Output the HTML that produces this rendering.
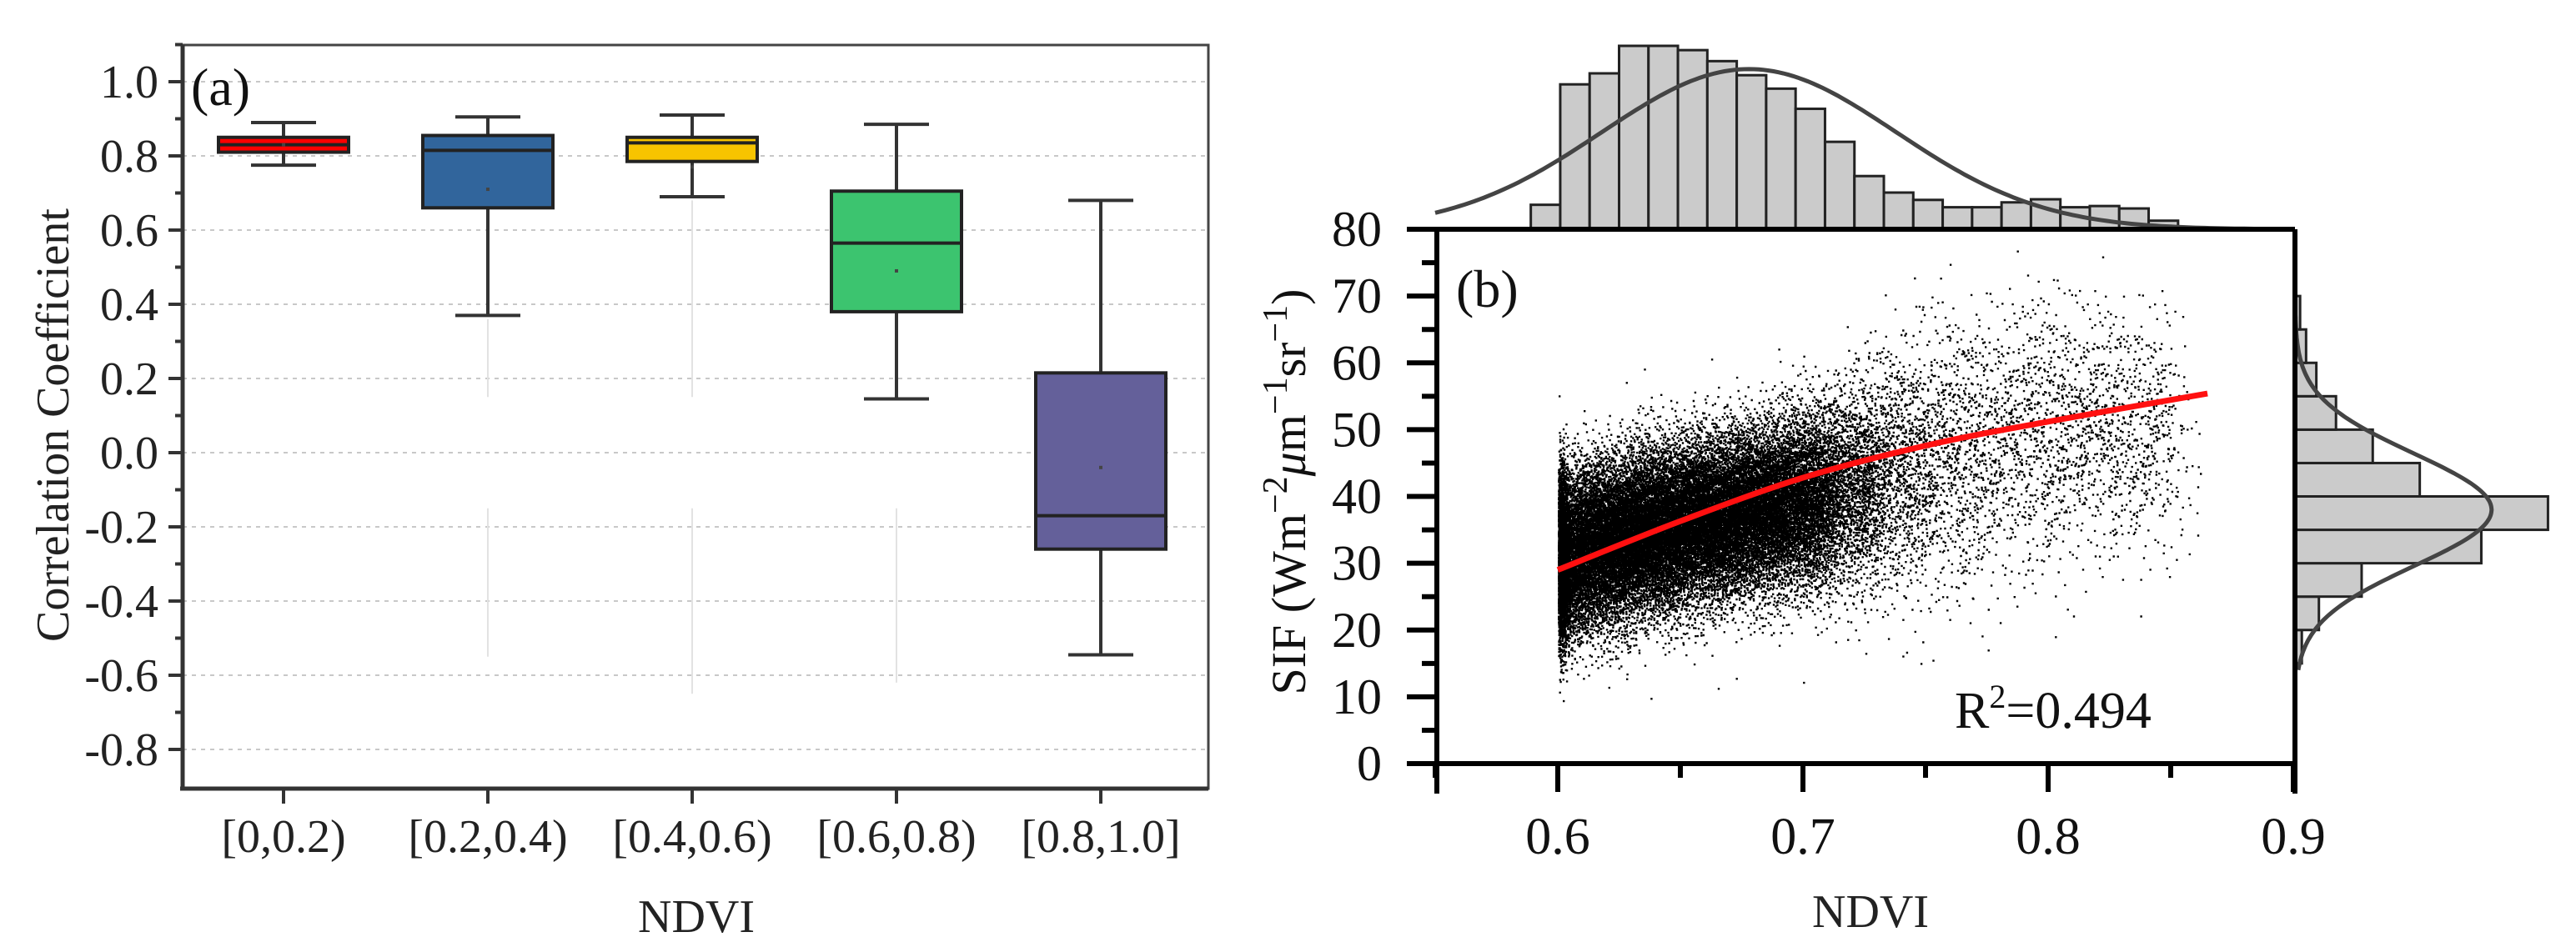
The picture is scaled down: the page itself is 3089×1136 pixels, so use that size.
<!DOCTYPE html>
<html><head><meta charset="utf-8"><style>
html,body{margin:0;padding:0;background:#fff;}
svg{display:block;}
text{font-family:"Liberation Serif",serif;}
</style></head><body>
<svg id="chart" width="3089" height="1136" viewBox="0 0 3089 1136" xmlns="http://www.w3.org/2000/svg" font-family="Liberation Serif, serif">
<g id="pa"></g>
<g id="pb"></g>
</svg>
<script>
// ---------- Panel (a) data ----------
const catLabels = ["[0,0.2)","[0.2,0.4)","[0.4,0.6)","[0.6,0.8)","[0.8,1.0]"];
const boxColors = ["#ff0000","#31659c","#f7c400","#3cc46f","#64609a"];
const whiskLow  = [0.775, 0.37, 0.69, 0.145, -0.545];
const q1Vals    = [0.81, 0.66, 0.785, 0.38, -0.26];
const medVals   = [0.83, 0.815, 0.835, 0.565, -0.17];
const q3Vals    = [0.85, 0.855, 0.85, 0.705, 0.215];
const whiskHigh = [0.89, 0.905, 0.91, 0.885, 0.68];
const meanVals  = [0.83, 0.71, 0.77, 0.49, -0.04];
const yTicksA   = [1.0,0.8,0.6,0.4,0.2,0.0,-0.2,-0.4,-0.6,-0.8];
const yTickLabelsA = ["1.0","0.8","0.6","0.4","0.2","0.0","-0.2","-0.4","-0.6","-0.8"];

// ---------- Panel (b) data ----------
const xTicksB = [0.6,0.7,0.8,0.9];
const xTickLabelsB = ["0.6","0.7","0.8","0.9"];
const yTicksB = [0,10,20,30,40,50,60,70,80];
const scatterNdvi  = [0.60,0.62,0.64,0.66,0.68,0.70,0.72,0.74,0.76,0.78,0.80,0.82,0.84,0.86];
const scatterMean  = [31,33,35,36.5,38,39.5,41.5,44,46,48,50,50,50,47];
const scatterSd    = [6,6,6,6,6,6.5,7.5,9,10,10,10,9,9,8];
const scatterCount = [6000,6500,6500,6000,5500,4200,2000,1000,650,500,500,460,400,60];
const fitNdvi = [0.60,0.65,0.70,0.75,0.80,0.865];
const fitSif  = [29,36.3,42.8,47.6,51.2,55.4];
const topHistStart = 0.589, topHistWidth = 0.012;
const topHistCounts = [40,237,255,300,300,293,275,252,230,197,143,87,60,48,36,36,44,49,36,38,34,14];
const topCurveMean = 0.678, topCurveSd = 0.06, topCurveAmp = 262;
const rightHistStart = 15, rightHistWidth = 5;
const rightHistCounts = [8,28,78,218,296,146,91,48,25,13,6];
const rightCurveMean = 38, rightCurveSd = 8.4, rightCurveAmp = 230;

const NS="http://www.w3.org/2000/svg";
function mk(parent,tag,attrs,text){const e=document.createElementNS(NS,tag);for(const k in attrs)e.setAttribute(k,attrs[k]);if(tag==='text')e.setAttribute('font-family','Liberation Serif, serif');if(text!==undefined)e.textContent=text;parent.appendChild(e);return e;}

// ===== Panel A =====
const pa=document.getElementById('pa');
const aL=219,aR=1449,aT=54,aB=946;
const ya=v=>543-v*445;
const xa=i=>340+i*245;
yTicksA.forEach((v,i)=>{
  const g=mk(pa,'line',{x1:aL,x2:aR,y1:ya(v),y2:ya(v),stroke:'#c8c8c8','stroke-width':2,'stroke-dasharray':'5,6'});
  
  
});
[[1,0.36,0.15],[1,-0.15,-0.55],[2,0.68,0.15],[2,-0.15,-0.65],[3,-0.15,-0.62]].forEach(o=>{
  const l=mk(pa,'line',{x1:xa(o[0]),x2:xa(o[0]),y1:ya(o[1]),y2:ya(o[2]),stroke:'#e2e2e2','stroke-width':2});
  
  
});
catLabels.forEach((c,i)=>{
  const g=mk(pa,'g',{});
  
  
  const cx=xa(i),hw=78,cw=39;
  mk(g,'line',{x1:cx,x2:cx,y1:ya(whiskHigh[i]),y2:ya(q3Vals[i]),stroke:'#333','stroke-width':4});
  mk(g,'line',{x1:cx,x2:cx,y1:ya(q1Vals[i]),y2:ya(whiskLow[i]),stroke:'#333','stroke-width':4});
  mk(g,'line',{x1:cx-cw,x2:cx+cw,y1:ya(whiskHigh[i]),y2:ya(whiskHigh[i]),stroke:'#333','stroke-width':4});
  mk(g,'line',{x1:cx-cw,x2:cx+cw,y1:ya(whiskLow[i]),y2:ya(whiskLow[i]),stroke:'#333','stroke-width':4});
  mk(g,'rect',{x:cx-hw,y:ya(q3Vals[i]),width:2*hw,height:ya(q1Vals[i])-ya(q3Vals[i]),fill:boxColors[i],stroke:'#222','stroke-width':4});
  mk(g,'line',{x1:cx-hw,x2:cx+hw,y1:ya(medVals[i]),y2:ya(medVals[i]),stroke:'#222','stroke-width':4});
  mk(g,'rect',{x:cx-2,y:ya(meanVals[i])-2,width:4,height:4,fill:'#444'});
  const t=mk(pa,'text',{x:cx,y:1022,'font-size':56,'text-anchor':'middle',fill:'#222'},c);
  
  
  mk(pa,'line',{x1:cx,x2:cx,y1:aB,y2:aB+18,stroke:'#333','stroke-width':4});
});
mk(pa,'rect',{x:aL,y:aT,width:aR-aL,height:aB-aT,fill:'none',stroke:'#444','stroke-width':3});
mk(pa,'line',{x1:aL,x2:aL,y1:aT,y2:aB+2,stroke:'#333','stroke-width':5});
mk(pa,'line',{x1:aL-3,x2:aR,y1:aB,y2:aB,stroke:'#333','stroke-width':5});
yTicksA.forEach((v,i)=>{
  mk(pa,'line',{x1:aL-17,x2:aL,y1:ya(v),y2:ya(v),stroke:'#333','stroke-width':4});
  mk(pa,'line',{x1:aL-9,x2:aL,y1:ya(v)-44.5,y2:ya(v)-44.5,stroke:'#333','stroke-width':4});
  const t=mk(pa,'text',{x:190,y:ya(v)+19,'font-size':56,'text-anchor':'end',fill:'#222'},yTickLabelsA[i]);
  
  
});
let t=mk(pa,'text',{x:229,y:126,'font-size':64,fill:'#111'},'(a)');

t=mk(pa,'text',{x:0,y:0,'font-size':56,'text-anchor':'middle',fill:'#222',transform:'translate(82,510) rotate(-90)'},'Correlation Coefficient');

t=mk(pa,'text',{x:835,y:1118,'font-size':56,'text-anchor':'middle',fill:'#222'},'NDVI');


// ===== Panel B =====
const pb=document.getElementById('pb');
const bL=1723,bR=2752,bT=275,bB=916;
const xb=v=>1868+(v-0.6)*2940;
const yb=v=>bB-v*(bB-bT)/80;
const topScale=220/300;
topHistCounts.forEach((c,i)=>{
  const x0=xb(topHistStart+i*topHistWidth),x1=xb(topHistStart+(i+1)*topHistWidth);
  const r=mk(pb,'rect',{x:x0,y:bT-c*topScale,width:x1-x0,height:c*topScale,fill:'#cbcbcb',stroke:'#222','stroke-width':3});
  
  
});
let d='';
for(let v=0.55;v<=0.885;v+=0.002){const h=topCurveAmp*Math.exp(-0.5*Math.pow((v-topCurveMean)/topCurveSd,2))*topScale;d+=(d?'L':'M')+xb(v).toFixed(1)+' '+(bT-h).toFixed(1);}
let p=mk(pb,'path',{d:d,fill:'none',stroke:'#444','stroke-width':5});

const rScale=1.025;
rightHistCounts.forEach((c,i)=>{
  const y0=yb(rightHistStart+(i+1)*rightHistWidth),y1=yb(rightHistStart+i*rightHistWidth);
  const r=mk(pb,'rect',{x:bR,y:y0,width:c*rScale,height:y1-y0,fill:'#cbcbcb',stroke:'#222','stroke-width':3});
  
  
});
d='';
for(let v=14;v<=70;v+=0.25){const w=rightCurveAmp*Math.exp(-0.5*Math.pow((v-rightCurveMean)/rightCurveSd,2))*rScale;d+=(d?'L':'M')+(bR+w).toFixed(1)+' '+yb(v).toFixed(1);}
p=mk(pb,'path',{d:d,fill:'none',stroke:'#444','stroke-width':5});

mk(pb,'rect',{x:bL,y:bT,width:bR-bL,height:bB-bT,fill:'#fff'});
function halton(i,b){let f=1,r=0;while(i>0){f/=b;r+=f*(i%b);i=Math.floor(i/b);}return r;}
let sd='';let k=1;
scatterNdvi.forEach((n,ci)=>{
  for(let j=1;j<=scatterCount[ci];j++,k++){
    const u1=(j*0.6180339887+ci*0.37)%1,u2=halton(j,3)||0.5,u3=halton(j,5);
    let x=n+(u1-0.5)*0.02+(halton(j,7)-0.5)*0.012; if(x<0.6)x=0.6+(0.6-x)*0.3; if(x>0.862)continue;
    const g=Math.sqrt(-2*Math.log(u2))*Math.cos(2*Math.PI*u3);
    const y=scatterMean[ci]+g*scatterSd[ci];
    if(y<8||y>77)continue;
    sd+='M'+xb(x).toFixed(1)+' '+yb(y).toFixed(1)+'h2.4v2.4h-2.4z';
  }
});
p=mk(pb,'path',{d:sd,fill:'#000'});

const fp=fitNdvi.map((v,i)=>[xb(v),yb(fitSif[i])]);
d='M'+fp[0][0]+' '+fp[0][1];
for(let i=0;i<fp.length-1;i++){
  const p0=fp[Math.max(0,i-1)],p1=fp[i],p2=fp[i+1],p3=fp[Math.min(fp.length-1,i+2)];
  const c1=[p1[0]+(p2[0]-p0[0])/6,p1[1]+(p2[1]-p0[1])/6],c2=[p2[0]-(p3[0]-p1[0])/6,p2[1]-(p3[1]-p1[1])/6];
  d+='C'+c1.join(' ')+' '+c2.join(' ')+' '+p2.join(' ');
}
p=mk(pb,'path',{d:d,fill:'none',stroke:'#ff1010','stroke-width':7,'stroke-linejoin':'round'});

mk(pb,'line',{x1:1690,x2:bR,y1:bT,y2:bT,stroke:'#000','stroke-width':6});
mk(pb,'line',{x1:1690,x2:bR,y1:bB,y2:bB,stroke:'#000','stroke-width':6});
mk(pb,'line',{x1:bL,x2:bL,y1:bT,y2:bB+36,stroke:'#000','stroke-width':6});
mk(pb,'line',{x1:bR,x2:bR,y1:bT,y2:bB+36,stroke:'#000','stroke-width':6});
yTicksB.forEach(v=>{
  mk(pb,'line',{x1:bL-36,x2:bL,y1:yb(v),y2:yb(v),stroke:'#000','stroke-width':6});
  if(v<80) mk(pb,'line',{x1:bL-18,x2:bL,y1:yb(v+5),y2:yb(v+5),stroke:'#000','stroke-width':6});
  const t=mk(pb,'text',{x:1657,y:yb(v)+20,'font-size':60,'text-anchor':'end',fill:'#111'},String(v));
  
  
});
xTicksB.forEach((v,i)=>{
  mk(pb,'line',{x1:xb(v),x2:xb(v),y1:bB,y2:bB+34,stroke:'#000','stroke-width':6});
  mk(pb,'line',{x1:xb(v-0.05),x2:xb(v-0.05),y1:bB,y2:bB+17,stroke:'#000','stroke-width':6});
  const t=mk(pb,'text',{x:xb(v),y:1024,'font-size':62,'text-anchor':'middle',fill:'#111'},xTickLabelsB[i]);
  
  
});
t=mk(pb,'text',{x:1746,y:368,'font-size':64,fill:'#111'},'(b)');

t=mk(pb,'text',{x:2344,y:873,'font-size':62,fill:'#111'});

t.innerHTML='R<tspan dy="-24" font-size="40">2</tspan><tspan dy="24">=0.494</tspan>';
t=mk(pb,'text',{x:0,y:0,'font-size':58,'text-anchor':'middle',fill:'#111',transform:'translate(1565,590) rotate(-90)'});

t.innerHTML='SIF (Wm<tspan dy="-22" font-size="42">−2</tspan><tspan dy="22" font-style="italic">μ</tspan>m<tspan dy="-22" font-size="42">−1</tspan><tspan dy="22">sr</tspan><tspan dy="-22" font-size="42">−1</tspan><tspan dy="22">)</tspan>';
t=mk(pb,'text',{x:2243,y:1112,'font-size':56,'text-anchor':'middle',fill:'#222'},'NDVI');

</script>
</body></html>
